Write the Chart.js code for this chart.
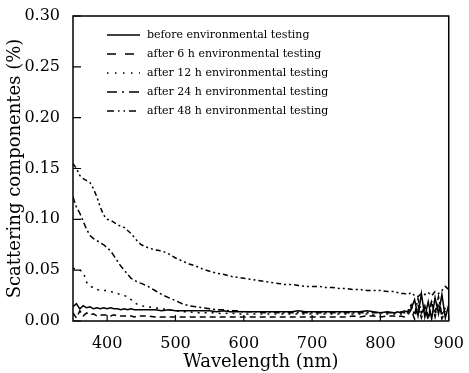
<!DOCTYPE html>
<html>
<head>
<meta charset="utf-8">
<script src="https://cdn.jsdelivr.net/npm/chart.js@4.4.0/dist/chart.umd.min.js"></script>
<style>
  body { margin: 0; background: #fff; }
  canvas { display: block; }
</style>
</head>
<body>
<canvas id="chart" width="469" height="373"></canvas>
<script>
// 波长 (nm)
const wavelengths = [350, 355, 360, 365, 370, 375, 380, 385, 390, 395, 400, 405, 410, 415, 420, 425, 430, 435, 440, 445, 450,
    460, 470, 480, 490, 500, 510, 520, 530, 540, 550, 560, 570, 580, 590, 600, 610, 620, 630, 640, 650, 660, 670, 680, 690,
    700, 710, 720, 730, 740, 750, 760, 770, 780, 790, 800, 810, 820,
    825, 830, 835, 840, 845, 850, 855, 860, 865, 870, 875, 880, 885, 890, 895, 900];

const before = [0.014, 0.017, 0.012, 0.015, 0.013, 0.014, 0.012, 0.013, 0.012, 0.013, 0.012, 0.013, 0.012, 0.012, 0.011, 0.012, 0.011, 0.012, 0.011, 0.011, 0.011,
    0.011, 0.011, 0.010, 0.011, 0.010, 0.010, 0.010, 0.010, 0.010, 0.010, 0.009, 0.010, 0.009, 0.009, 0.009, 0.009, 0.009, 0.009, 0.009, 0.009, 0.009, 0.009, 0.010, 0.009,
    0.009, 0.009, 0.009, 0.009, 0.009, 0.009, 0.009, 0.009, 0.010, 0.009, 0.008, 0.009, 0.008,
    0.009, 0.008, 0.010, 0.009, 0.012, 0.021, 0.005, 0.027, 0.004, 0.019, 0.002, 0.023, 0.007, 0.026, 0.003, 0.016];

const after6h = [0.008, 0.003, 0.010, 0.005, 0.008, 0.006, 0.007, 0.005, 0.006, 0.006, 0.006, 0.005, 0.006, 0.005, 0.005, 0.005, 0.005, 0.005, 0.004, 0.005, 0.005,
    0.005, 0.004, 0.004, 0.004, 0.004, 0.004, 0.004, 0.004, 0.004, 0.004, 0.004, 0.004, 0.004, 0.004, 0.004, 0.004, 0.004, 0.004, 0.004, 0.004, 0.004, 0.004, 0.004, 0.004,
    0.004, 0.004, 0.004, 0.004, 0.004, 0.004, 0.005, 0.004, 0.005, 0.005, 0.004, 0.005,
    0.005, 0.004, 0.005, 0.004, 0.006, 0.011, 0.002, 0.016, 0.003, 0.013, 0.001, 0.020, 0.004, 0.017, 0.002, 0.010];

const after12h = [0.052, 0.051, 0.050, 0.048, 0.038, 0.034, 0.033, 0.031, 0.030, 0.030, 0.030, 0.029, 0.028, 0.027, 0.026, 0.025, 0.024, 0.021, 0.018, 0.016, 0.015,
    0.014, 0.013, 0.012, 0.011, 0.010, 0.009, 0.009, 0.008, 0.008, 0.008, 0.008, 0.007, 0.008, 0.007, 0.007, 0.007, 0.007, 0.007, 0.007, 0.007, 0.007, 0.007, 0.007, 0.007,
    0.007, 0.007, 0.007, 0.007, 0.007, 0.007, 0.007, 0.007, 0.007, 0.006, 0.007, 0.007,
    0.007, 0.006, 0.007, 0.007, 0.008, 0.014, 0.005, 0.012, 0.006, 0.015, 0.004, 0.011, 0.006, 0.018, 0.005, 0.012];

const after24h = [0.122, 0.112, 0.106, 0.098, 0.090, 0.084, 0.081, 0.079, 0.077, 0.075, 0.072, 0.069, 0.064, 0.059, 0.054, 0.050, 0.046, 0.042, 0.040, 0.038, 0.037,
    0.034, 0.030, 0.026, 0.023, 0.020, 0.017, 0.015, 0.014, 0.013, 0.012, 0.011, 0.011, 0.010, 0.010, 0.009, 0.009, 0.009, 0.008, 0.009, 0.008, 0.008, 0.008, 0.008, 0.008,
    0.008, 0.008, 0.008, 0.008, 0.008, 0.008, 0.008, 0.008, 0.008, 0.008, 0.008, 0.008,
    0.008, 0.008, 0.009, 0.008, 0.010, 0.016, 0.006, 0.022, 0.008, 0.014, 0.005, 0.019, 0.009, 0.024, 0.006, 0.013];

const after48h = [0.155, 0.150, 0.143, 0.140, 0.138, 0.136, 0.130, 0.122, 0.112, 0.104, 0.100, 0.099, 0.097, 0.095, 0.093, 0.092, 0.089, 0.086, 0.082, 0.078, 0.075,
    0.072, 0.070, 0.069, 0.066, 0.062, 0.059, 0.056, 0.054, 0.051, 0.049, 0.047, 0.046, 0.044, 0.043, 0.042, 0.041, 0.040, 0.039, 0.038, 0.037, 0.036, 0.036, 0.035, 0.034,
    0.034, 0.034, 0.033, 0.033, 0.032, 0.032, 0.031, 0.031, 0.030, 0.030, 0.030, 0.029, 0.029,
    0.028, 0.027, 0.027, 0.026, 0.028, 0.025, 0.024, 0.027, 0.026, 0.028, 0.025, 0.029, 0.027, 0.030, 0.034, 0.031];

const seriesNames = [
    'before environmental testing',
    'after 6 h environmental testing',
    'after 12 h environmental testing',
    'after 24 h environmental testing',
    'after 48 h environmental testing'
];

const xTicks = [400, 500, 600, 700, 800, 900];
const yTicks = [0, 0.05, 0.10, 0.15, 0.20, 0.25, 0.30];

// 线型：图中 / 图例
const plotDash = [[], [6, 4], [2, 5], [6, 3, 2, 3], [5, 3, 2, 3, 2, 3]];
const legendDash = [[], [9, 9], [1.5, 6.5], [10, 5, 2, 5], [7, 4, 1.5, 4, 1.5, 4]];

const serif = '"DejaVu Serif", "Liberation Serif", serif';

const allSeries = [before, after6h, after12h, after24h, after48h];

// 边框、内侧刻度和图例
const framePlugin = {
    id: 'frame',
    afterDraw(chart) {
        const { ctx, chartArea: a, scales: { x, y } } = chart;
        ctx.save();
        ctx.strokeStyle = '#000';
        ctx.setLineDash([]);
        ctx.lineWidth = 1.5;
        ctx.strokeRect(a.left, a.top, a.right - a.left, a.bottom - a.top);

        ctx.lineWidth = 1.2;
        ctx.beginPath();
        xTicks.forEach(v => {
            const px = x.getPixelForValue(v);
            ctx.moveTo(px, a.bottom);
            ctx.lineTo(px, a.bottom - 6);
        });
        yTicks.forEach(v => {
            const py = y.getPixelForValue(v);
            ctx.moveTo(a.left, py);
            ctx.lineTo(a.left + 8, py);
        });
        ctx.stroke();

        // 图例
        ctx.font = '11px ' + serif;
        ctx.fillStyle = '#000';
        ctx.textBaseline = 'middle';
        seriesNames.forEach((name, i) => {
            const ly = 35 + i * 19;
            ctx.lineWidth = 1.6;
            ctx.setLineDash(legendDash[i]);
            ctx.beginPath();
            ctx.moveTo(107, ly);
            ctx.lineTo(140, ly);
            ctx.stroke();
            ctx.fillText(name, 147, ly);
        });
        ctx.restore();
    }
};

new Chart(document.getElementById('chart'), {
    type: 'line',
    data: {
        datasets: allSeries.map((s, i) => ({
            label: seriesNames[i],
            data: wavelengths.map((w, j) => ({ x: w, y: s[j] })),
            borderColor: '#000',
            borderWidth: 1.5,
            borderDash: plotDash[i],
            pointRadius: 0,
            tension: 0,
            fill: false
        }))
    },
    options: {
        responsive: false,
        animation: false,
        devicePixelRatio: 1,
        layout: { padding: { left: 0, top: 16, right: 17, bottom: 0 } },
        plugins: {
            legend: { display: false },
            tooltip: { enabled: false }
        },
        scales: {
            x: {
                type: 'linear',
                min: 350,
                max: 900,
                afterBuildTicks: scale => { scale.ticks = xTicks.map(v => ({ value: v })); },
                afterFit: scale => { scale.height = 52; },
                grid: { display: false },
                border: { display: false },
                ticks: {
                    padding: 5,
                    color: '#000',
                    font: { family: serif, size: 16 },
                    maxRotation: 0
                },
                title: {
                    display: true,
                    text: 'Wavelength (nm)',
                    color: '#000',
                    font: { family: serif, size: 18 },
                    padding: { top: 12, bottom: 0 }
                }
            },
            y: {
                min: 0,
                max: 0.30,
                afterBuildTicks: scale => { scale.ticks = yTicks.map(v => ({ value: v })); },
                afterFit: scale => { scale.width = 73; },
                grid: { display: false },
                border: { display: false },
                ticks: {
                    padding: 5,
                    color: '#000',
                    font: { family: serif, size: 16 },
                    callback: v => v.toFixed(2)
                },
                title: {
                    display: true,
                    text: 'Scattering componentes (%)',
                    color: '#000',
                    font: { family: serif, size: 18 },
                    padding: { top: 5, bottom: 0 }
                }
            }
        }
    },
    plugins: [framePlugin]
});
</script>
</body>
</html>
